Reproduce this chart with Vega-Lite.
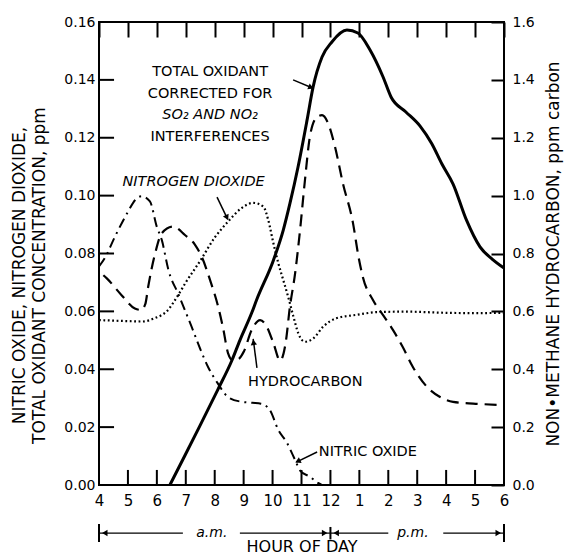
{
  "$schema": "https://vega.github.io/schema/vega-lite/v6.json",
  "width": 405,
  "height": 463,
  "autosize": {"type": "none"},
  "padding": {"left": 99, "top": 22, "right": 68, "bottom": 69},
  "background": "white",
  "config": {
    "view": {"stroke": "black", "strokeWidth": 2},
    "font": "DejaVu Sans",
    "axis": {"labelFont": "DejaVu Sans", "titleFont": "DejaVu Sans", "labelColor": "black", "titleColor": "black", "tickColor": "black", "tickOpacity": 1, "titleFontWeight": "normal", "grid": false, "domain": false, "labelFlush": false, "labelOverlap": false},
    "text": {"font": "DejaVu Sans", "color": "black"}
  },
  "datasets": {
    "oxidant": [
      {"hour": 6.45, "ppm": 0}, {"hour": 6.97, "ppm": 0.0102}, {"hour": 7.5, "ppm": 0.0207}, {"hour": 8.1, "ppm": 0.0328},
      {"hour": 8.6, "ppm": 0.0432}, {"hour": 8.87, "ppm": 0.05}, {"hour": 9.28, "ppm": 0.0595}, {"hour": 9.45, "ppm": 0.064},
      {"hour": 10.03, "ppm": 0.0777}, {"hour": 10.37, "ppm": 0.0881}, {"hour": 10.6, "ppm": 0.0973}, {"hour": 10.88, "ppm": 0.1099},
      {"hour": 11.19, "ppm": 0.126}, {"hour": 11.4, "ppm": 0.1375}, {"hour": 11.71, "ppm": 0.1479}, {"hour": 12.05, "ppm": 0.1531},
      {"hour": 12.57, "ppm": 0.1572}, {"hour": 12.95, "ppm": 0.1562}, {"hour": 13.37, "ppm": 0.1503}, {"hour": 13.82, "ppm": 0.141},
      {"hour": 14.1, "ppm": 0.134}, {"hour": 14.6, "ppm": 0.129}, {"hour": 15.1, "ppm": 0.124}, {"hour": 15.5, "ppm": 0.118},
      {"hour": 15.85, "ppm": 0.111}, {"hour": 16.24, "ppm": 0.104}, {"hour": 16.7, "ppm": 0.0916}, {"hour": 17.17, "ppm": 0.0823},
      {"hour": 17.6, "ppm": 0.078}, {"hour": 18.0, "ppm": 0.075}
    ],
    "no": [
      {"hour": 4.0, "ppm": 0.0755}, {"hour": 4.2, "ppm": 0.0784}, {"hour": 4.55, "ppm": 0.0858}, {"hour": 5.0, "ppm": 0.0944},
      {"hour": 5.25, "ppm": 0.0985}, {"hour": 5.47, "ppm": 0.0998}, {"hour": 5.76, "ppm": 0.098}, {"hour": 6.0, "ppm": 0.0892},
      {"hour": 6.17, "ppm": 0.0847}, {"hour": 6.4, "ppm": 0.0743}, {"hour": 6.74, "ppm": 0.066}, {"hour": 7.2, "ppm": 0.0547},
      {"hour": 7.5, "ppm": 0.047}, {"hour": 7.77, "ppm": 0.0408}, {"hour": 8.1, "ppm": 0.0352}, {"hour": 8.46, "ppm": 0.0304},
      {"hour": 8.9, "ppm": 0.0288}, {"hour": 9.3, "ppm": 0.0284}, {"hour": 9.6, "ppm": 0.0281}, {"hour": 9.9, "ppm": 0.026},
      {"hour": 10.2, "ppm": 0.019}, {"hour": 10.5, "ppm": 0.0145}, {"hour": 10.78, "ppm": 0.0086}, {"hour": 10.95, "ppm": 0.005},
      {"hour": 11.3, "ppm": 0.0028}, {"hour": 11.57, "ppm": 0.0007}, {"hour": 11.7, "ppm": 0}
    ],
    "no2": [
      {"hour": 4.0, "ppm": 0.057}, {"hour": 4.8, "ppm": 0.0567}, {"hour": 5.5, "ppm": 0.0565}, {"hour": 5.94, "ppm": 0.0577},
      {"hour": 6.34, "ppm": 0.06}, {"hour": 6.74, "ppm": 0.0657}, {"hour": 7.0, "ppm": 0.07}, {"hour": 7.5, "ppm": 0.0775},
      {"hour": 8.0, "ppm": 0.0855}, {"hour": 8.46, "ppm": 0.091}, {"hour": 8.93, "ppm": 0.0957}, {"hour": 9.33, "ppm": 0.0975},
      {"hour": 9.68, "ppm": 0.0962}, {"hour": 9.85, "ppm": 0.0916}, {"hour": 10.03, "ppm": 0.0835}, {"hour": 10.2, "ppm": 0.0766},
      {"hour": 10.37, "ppm": 0.0708}, {"hour": 10.54, "ppm": 0.065}, {"hour": 10.72, "ppm": 0.0582}, {"hour": 10.89, "ppm": 0.0524},
      {"hour": 11.12, "ppm": 0.0495}, {"hour": 11.41, "ppm": 0.0507}, {"hour": 11.75, "ppm": 0.0547}, {"hour": 12.2, "ppm": 0.0576},
      {"hour": 12.9, "ppm": 0.0588}, {"hour": 13.7, "ppm": 0.0598}, {"hour": 14.65, "ppm": 0.0599}, {"hour": 16.0, "ppm": 0.0595},
      {"hour": 17.0, "ppm": 0.0594}, {"hour": 18.0, "ppm": 0.0595}
    ],
    "hc": [
      {"hour": 4.15, "ppmc": 0.725}, {"hour": 4.27, "ppmc": 0.714}, {"hour": 4.78, "ppmc": 0.656}, {"hour": 5.24, "ppmc": 0.61},
      {"hour": 5.45, "ppmc": 0.605}, {"hour": 5.6, "ppmc": 0.625}, {"hour": 5.7, "ppmc": 0.685}, {"hour": 5.94, "ppmc": 0.8},
      {"hour": 6.17, "ppmc": 0.87}, {"hour": 6.56, "ppmc": 0.893}, {"hour": 6.97, "ppmc": 0.864}, {"hour": 7.32, "ppmc": 0.83},
      {"hour": 7.55, "ppmc": 0.789}, {"hour": 7.84, "ppmc": 0.708}, {"hour": 8.12, "ppmc": 0.616}, {"hour": 8.29, "ppmc": 0.542},
      {"hour": 8.46, "ppmc": 0.456}, {"hour": 8.62, "ppmc": 0.432}, {"hour": 8.8, "ppmc": 0.434}, {"hour": 9.0, "ppmc": 0.46},
      {"hour": 9.28, "ppmc": 0.536}, {"hour": 9.57, "ppmc": 0.57}, {"hour": 9.8, "ppmc": 0.547}, {"hour": 10.03, "ppmc": 0.49},
      {"hour": 10.26, "ppmc": 0.43}, {"hour": 10.45, "ppmc": 0.49}, {"hour": 10.6, "ppmc": 0.616}, {"hour": 10.78, "ppmc": 0.732},
      {"hour": 10.95, "ppmc": 0.881}, {"hour": 11.12, "ppmc": 1.054}, {"hour": 11.3, "ppmc": 1.21}, {"hour": 11.54, "ppmc": 1.272},
      {"hour": 11.71, "ppmc": 1.278}, {"hour": 11.92, "ppmc": 1.25}, {"hour": 12.16, "ppmc": 1.168}, {"hour": 12.43, "ppmc": 1.043},
      {"hour": 12.78, "ppmc": 0.905}, {"hour": 12.97, "ppmc": 0.789}, {"hour": 13.12, "ppmc": 0.719}, {"hour": 13.47, "ppmc": 0.639},
      {"hour": 13.82, "ppmc": 0.587}, {"hour": 14.16, "ppmc": 0.536}, {"hour": 14.5, "ppmc": 0.477}, {"hour": 14.85, "ppmc": 0.408},
      {"hour": 15.34, "ppmc": 0.339}, {"hour": 15.79, "ppmc": 0.304}, {"hour": 16.24, "ppmc": 0.287}, {"hour": 17.17, "ppmc": 0.28},
      {"hour": 18.0, "ppmc": 0.276}
    ],
    "xticks": [
      {"hour": 5, "lo": 0, "hi": 0.0052}, {"hour": 6, "lo": 0, "hi": 0.0052}, {"hour": 7, "lo": 0, "hi": 0.0052}, {"hour": 8, "lo": 0, "hi": 0.0052},
      {"hour": 9, "lo": 0, "hi": 0.0052}, {"hour": 10, "lo": 0, "hi": 0.0052}, {"hour": 11, "lo": 0, "hi": 0.0052}, {"hour": 12, "lo": 0, "hi": 0.0052},
      {"hour": 13, "lo": 0, "hi": 0.0052}, {"hour": 14, "lo": 0, "hi": 0.0052}, {"hour": 15, "lo": 0, "hi": 0.0052}, {"hour": 16, "lo": 0, "hi": 0.0052},
      {"hour": 17, "lo": 0, "hi": 0.0052}
    ],
    "yticks": [
      {"ppm": 0.02, "h0": 4, "h1": 4.52}, {"ppm": 0.04, "h0": 4, "h1": 4.52}, {"ppm": 0.06, "h0": 4, "h1": 4.52}, {"ppm": 0.08, "h0": 4, "h1": 4.52},
      {"ppm": 0.1, "h0": 4, "h1": 4.52}, {"ppm": 0.12, "h0": 4, "h1": 4.52}, {"ppm": 0.14, "h0": 4, "h1": 4.52}
    ],
    "labels": [
      {"hour": 7.84, "ppm": 0.1427, "text": "TOTAL OXIDANT"},
      {"hour": 7.84, "ppm": 0.1352, "text": "CORRECTED FOR"},
      {"hour": 7.84, "ppm": 0.1202, "text": "INTERFERENCES"},
      {"hour": 11.13, "ppm": 0.0357, "text": "HYDROCARBON"}
    ],
    "italiclabels": [
      {"hour": 7.84, "ppm": 0.1277, "text": "SO₂ AND NO₂"},
      {"hour": 7.27, "ppm": 0.1047, "text": "NITROGEN DIOXIDE"}
    ],
    "leftlabels": [
      {"hour": 11.6, "ppm": 0.0114, "text": "NITRIC OXIDE"}
    ],
    "arrows": [
      {"id": "ox", "hour": 10.71, "ppm": 0.14}, {"id": "ox", "hour": 11.38, "ppm": 0.1372},
      {"id": "no2", "hour": 8.08, "ppm": 0.0995}, {"id": "no2", "hour": 8.45, "ppm": 0.0918},
      {"id": "hc", "hour": 9.46, "ppm": 0.0405}, {"id": "hc", "hour": 9.33, "ppm": 0.0505},
      {"id": "no", "hour": 11.54, "ppm": 0.0114}, {"id": "no", "hour": 10.82, "ppm": 0.0079}
    ],
    "heads": [
      {"id": "ox", "hour": 11.3, "ppm": 0.1375},
      {"id": "no2", "hour": 8.41, "ppm": 0.0927},
      {"id": "hc", "hour": 9.345, "ppm": 0.049},
      {"id": "no", "hour": 10.9, "ppm": 0.0083}
    ],
    "bracket": [
      {"hour": 4.0, "hour2": 6.9, "ppm": -0.0166},
      {"hour": 8.87, "hour2": 12.0, "ppm": -0.0166},
      {"hour": 12.0, "hour2": 14.0, "ppm": -0.0166},
      {"hour": 15.9, "hour2": 18.0, "ppm": -0.0166}
    ],
    "bars": [
      {"hour": 4.0, "lo": -0.0197, "hi": -0.0135},
      {"hour": 12.0, "lo": -0.0188, "hi": -0.0145},
      {"hour": 18.0, "lo": -0.0197, "hi": -0.0135}
    ],
    "bracketheads_l": [{"hour": 4.2, "ppm": -0.0166}, {"hour": 12.2, "ppm": -0.0166}],
    "bracketheads_r": [{"hour": 11.8, "ppm": -0.0166}, {"hour": 17.8, "ppm": -0.0166}],
    "ampm": [
      {"hour": 7.9, "ppm": -0.0166, "text": "a.m."},
      {"hour": 14.85, "ppm": -0.0166, "text": "p.m."}
    ]
  },
  "layer": [
    {
      "data": {"name": "hc"},
      "mark": {"type": "line", "interpolate": "monotone", "color": "black", "strokeWidth": 2.2, "strokeDash": [12, 7]},
      "encoding": {
        "x": {"field": "hour", "type": "quantitative", "scale": {"domain": [4, 18], "nice": false, "zero": false},
          "axis": {"orient": "top", "values": [4,5,6,7,8,9,10,11,12,13,14,15,16,17,18], "tickSize": -15, "tickWidth": 2, "labels": false, "title": null}},
        "y": {"field": "ppmc", "type": "quantitative", "scale": {"domain": [0, 1.6], "nice": false, "zero": false},
          "axis": {"orient": "right", "values": [0,0.2,0.4,0.6,0.8,1.0,1.2,1.4,1.6], "format": ".1f", "tickSize": -13, "tickWidth": 2,
            "labelPadding": 21, "labelFontSize": 14, "title": "NON•METHANE HYDROCARBON, ppm carbon", "titleFontSize": 17,
            "titleAngle": 270, "titleBaseline": "top", "titlePadding": 11}}
      }
    },
    {
      "data": {"name": "oxidant"},
      "mark": {"type": "line", "interpolate": "monotone", "color": "black", "strokeWidth": 3},
      "encoding": {
        "x": {"field": "hour", "type": "quantitative",
          "axis": {"orient": "bottom", "values": [4,5,6,7,8,9,10,11,12,13,14,15,16,17,18], "labelExpr": "datum.value > 12 ? datum.value - 12 : datum.value",
            "ticks": false, "labelPadding": 8, "labelFontSize": 15, "title": "HOUR OF DAY", "titleFontSize": 16, "titlePadding": 30}},
        "y": {"field": "ppm", "type": "quantitative", "scale": {"domain": [0, 0.16], "nice": false, "zero": false},
          "axis": {"orient": "left", "values": [0,0.02,0.04,0.06,0.08,0.1,0.12,0.14,0.16], "format": ".2f", "ticks": false,
            "labelPadding": 4, "labelFontSize": 14, "title": ["NITRIC OXIDE, NITROGEN DIOXIDE,", "TOTAL OXIDANT CONCENTRATION, ppm"],
            "titleFontSize": 17, "titleX": -75, "titleY": 253, "titleBaseline": "alphabetic", "titleLineHeight": 20}}
      }
    },
    {
      "data": {"name": "xticks"},
      "mark": {"type": "rule", "color": "black", "strokeWidth": 2},
      "encoding": {
        "x": {"field": "hour", "type": "quantitative", "axis": null},
        "y": {"field": "lo", "type": "quantitative", "scale": {"domain": [0, 0.16], "nice": false, "zero": false}, "axis": null},
        "y2": {"field": "hi"}
      }
    },
    {
      "data": {"name": "yticks"},
      "mark": {"type": "rule", "color": "black", "strokeWidth": 2},
      "encoding": {
        "x": {"field": "h0", "type": "quantitative", "axis": null},
        "x2": {"field": "h1"},
        "y": {"field": "ppm", "type": "quantitative", "scale": {"domain": [0, 0.16], "nice": false, "zero": false}, "axis": null}
      }
    },
    {
      "data": {"name": "no"},
      "mark": {"type": "line", "interpolate": "monotone", "color": "black", "strokeWidth": 2, "strokeDash": [10, 5, 2, 5]},
      "encoding": {"x": {"field": "hour", "type": "quantitative", "axis": null}, "y": {"field": "ppm", "type": "quantitative", "scale": {"domain": [0, 0.16], "nice": false, "zero": false}, "axis": null}}
    },
    {
      "data": {"name": "no2"},
      "mark": {"type": "line", "interpolate": "monotone", "color": "black", "strokeWidth": 2.2, "strokeDash": [1.8, 2.6]},
      "encoding": {"x": {"field": "hour", "type": "quantitative", "axis": null}, "y": {"field": "ppm", "type": "quantitative", "scale": {"domain": [0, 0.16], "nice": false, "zero": false}, "axis": null}}
    },
    {
      "data": {"name": "arrows"},
      "mark": {"type": "line", "color": "black", "strokeWidth": 1.5},
      "encoding": {"x": {"field": "hour", "type": "quantitative", "axis": null}, "y": {"field": "ppm", "type": "quantitative", "scale": {"domain": [0, 0.16], "nice": false, "zero": false}, "axis": null}, "detail": {"field": "id"}}
    },
    {
      "data": {"name": "heads"}, "transform": [{"filter": "datum.id === 'ox'"}],
      "mark": {"type": "point", "shape": "triangle", "filled": true, "color": "black", "opacity": 1, "size": 40, "angle": 112},
      "encoding": {"x": {"field": "hour", "type": "quantitative", "axis": null}, "y": {"field": "ppm", "type": "quantitative", "scale": {"domain": [0, 0.16], "nice": false, "zero": false}, "axis": null}}
    },
    {
      "data": {"name": "heads"}, "transform": [{"filter": "datum.id === 'no2'"}],
      "mark": {"type": "point", "shape": "triangle", "filled": true, "color": "black", "opacity": 1, "size": 40, "angle": 154},
      "encoding": {"x": {"field": "hour", "type": "quantitative", "axis": null}, "y": {"field": "ppm", "type": "quantitative", "scale": {"domain": [0, 0.16], "nice": false, "zero": false}, "axis": null}}
    },
    {
      "data": {"name": "heads"}, "transform": [{"filter": "datum.id === 'hc'"}],
      "mark": {"type": "point", "shape": "triangle", "filled": true, "color": "black", "opacity": 1, "size": 40, "angle": 352},
      "encoding": {"x": {"field": "hour", "type": "quantitative", "axis": null}, "y": {"field": "ppm", "type": "quantitative", "scale": {"domain": [0, 0.16], "nice": false, "zero": false}, "axis": null}}
    },
    {
      "data": {"name": "heads"}, "transform": [{"filter": "datum.id === 'no'"}],
      "mark": {"type": "point", "shape": "triangle", "filled": true, "color": "black", "opacity": 1, "size": 40, "angle": 244},
      "encoding": {"x": {"field": "hour", "type": "quantitative", "axis": null}, "y": {"field": "ppm", "type": "quantitative", "scale": {"domain": [0, 0.16], "nice": false, "zero": false}, "axis": null}}
    },
    {
      "data": {"name": "labels"},
      "mark": {"type": "text", "fontSize": 14.5, "align": "center", "baseline": "middle"},
      "encoding": {"x": {"field": "hour", "type": "quantitative", "axis": null}, "y": {"field": "ppm", "type": "quantitative", "scale": {"domain": [0, 0.16], "nice": false, "zero": false}, "axis": null}, "text": {"field": "text"}}
    },
    {
      "data": {"name": "italiclabels"},
      "mark": {"type": "text", "fontSize": 14.5, "fontStyle": "italic", "align": "center", "baseline": "middle"},
      "encoding": {"x": {"field": "hour", "type": "quantitative", "axis": null}, "y": {"field": "ppm", "type": "quantitative", "scale": {"domain": [0, 0.16], "nice": false, "zero": false}, "axis": null}, "text": {"field": "text"}}
    },
    {
      "data": {"name": "leftlabels"},
      "mark": {"type": "text", "fontSize": 14.5, "align": "left", "baseline": "middle"},
      "encoding": {"x": {"field": "hour", "type": "quantitative", "axis": null}, "y": {"field": "ppm", "type": "quantitative", "scale": {"domain": [0, 0.16], "nice": false, "zero": false}, "axis": null}, "text": {"field": "text"}}
    },
    {
      "data": {"name": "bracket"},
      "mark": {"type": "rule", "color": "black", "strokeWidth": 1.2},
      "encoding": {"x": {"field": "hour", "type": "quantitative", "axis": null}, "x2": {"field": "hour2"}, "y": {"field": "ppm", "type": "quantitative", "scale": {"domain": [0, 0.16], "nice": false, "zero": false}, "axis": null}}
    },
    {
      "data": {"name": "bars"},
      "mark": {"type": "rule", "color": "black", "strokeWidth": 2},
      "encoding": {"x": {"field": "hour", "type": "quantitative", "axis": null}, "y": {"field": "lo", "type": "quantitative", "scale": {"domain": [0, 0.16], "nice": false, "zero": false}, "axis": null}, "y2": {"field": "hi"}}
    },
    {
      "data": {"name": "bracketheads_l"},
      "mark": {"type": "point", "shape": "triangle-left", "filled": true, "color": "black", "opacity": 1, "size": 40},
      "encoding": {"x": {"field": "hour", "type": "quantitative", "axis": null}, "y": {"field": "ppm", "type": "quantitative", "scale": {"domain": [0, 0.16], "nice": false, "zero": false}, "axis": null}}
    },
    {
      "data": {"name": "bracketheads_r"},
      "mark": {"type": "point", "shape": "triangle-right", "filled": true, "color": "black", "opacity": 1, "size": 40},
      "encoding": {"x": {"field": "hour", "type": "quantitative", "axis": null}, "y": {"field": "ppm", "type": "quantitative", "scale": {"domain": [0, 0.16], "nice": false, "zero": false}, "axis": null}}
    },
    {
      "data": {"name": "ampm"},
      "mark": {"type": "text", "fontSize": 14, "fontStyle": "italic", "align": "center", "baseline": "middle"},
      "encoding": {"x": {"field": "hour", "type": "quantitative", "axis": null}, "y": {"field": "ppm", "type": "quantitative", "scale": {"domain": [0, 0.16], "nice": false, "zero": false}, "axis": null}, "text": {"field": "text"}}
    }
  ],
  "resolve": {"scale": {"y": "independent"}, "axis": {"x": "independent", "y": "independent"}}
}
